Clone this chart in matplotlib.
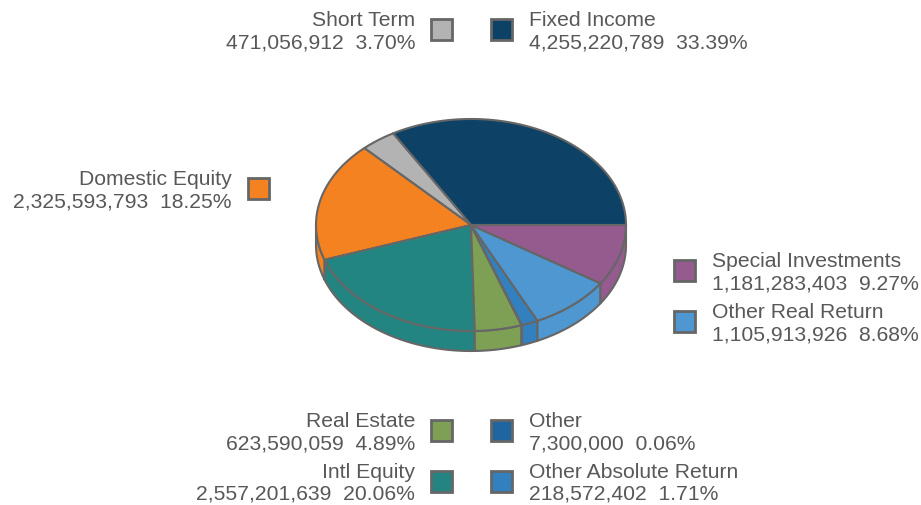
import numpy as np
import matplotlib.pyplot as plt
from matplotlib.patches import Polygon, Rectangle

# data, in pie order (counter-clockwise from 3 o'clock)
labels = ["Fixed Income", "Short Term", "Domestic Equity", "Intl Equity",
          "Real Estate", "Other", "Other Absolute Return",
          "Other Real Return", "Special Investments"]
values = [4255220789, 471056912, 2325593793, 2557201639, 623590059,
          7300000, 218572402, 1105913926, 1181283403]
colors = ["#0d4166", "#b3b3b3", "#f58220", "#238582", "#7ea055",
          "#1f65a0", "#3380bf", "#4f97d1", "#955b8e"]

# layout (pixel coords)
CX, CY, RX, RY, DEPTH = 471, 225, 155, 106, 20
EDGE = "#666666"
TEXT = "#585858"
FONT = "Liberation Sans"
FS = 15.2

# label -> (square centre x, first baseline y, text side)
legend_pos = {
    "Short Term": (441.5, 26, "left"),
    "Fixed Income": (501.5, 26, "right"),
    "Domestic Equity": (258, 185, "left"),
    "Special Investments": (684, 267, "right"),
    "Other Real Return": (684, 318, "right"),
    "Real Estate": (441.5, 427, "left"),
    "Other": (501.5, 427, "right"),
    "Intl Equity": (441.5, 477.5, "left"),
    "Other Absolute Return": (501.5, 477.5, "right"),
}


def arc(t0, t1, dy=0.0, n=80):
    t = np.radians(np.linspace(t0, t1, n))
    return np.column_stack([CX + RX * np.cos(t), CY - RY * np.sin(t) + dy])


fig = plt.figure(figsize=(9.21, 5.05), dpi=100)
ax = fig.add_axes([0, 0, 1, 1])
ax.set_xlim(0, 921)
ax.set_ylim(505, 0)
ax.axis("off")

vals = np.array(values, dtype=float)
frac = vals / vals.sum()
bounds = np.concatenate([[0], np.cumsum(frac) * 360])

# side walls (front half only)
for i, c in enumerate(colors):
    a, b = max(bounds[i], 180), min(bounds[i + 1], 360)
    if b <= a:
        continue
    top = arc(a, b)
    bot = arc(a, b, DEPTH)[::-1]
    ax.add_patch(Polygon(np.vstack([top, bot]), closed=True, facecolor=c,
                         edgecolor=EDGE, lw=1.5, joinstyle="round"))

# top face
for i, c in enumerate(colors):
    pts = np.vstack([[CX, CY], arc(bounds[i], bounds[i + 1])])
    ax.add_patch(Polygon(pts, closed=True, facecolor=c, edgecolor=EDGE,
                         lw=1.5, joinstyle="round"))

# legend entries
total = vals.sum()
for lab, v, c in zip(labels, values, colors):
    sx, by, side = legend_pos[lab]
    sy = by + 3.5
    ax.add_patch(Rectangle((sx - 10.5, sy - 10.5), 21, 21, facecolor=c,
                           edgecolor=EDGE, lw=2))
    line2 = f"{v:,}  {v / total * 100:.2f}%"
    if side == "left":
        tx, ha = sx - 26.5, "right"
    else:
        tx, ha = sx + 27.5, "left"
    ax.text(tx, by, lab, ha=ha, va="baseline", fontsize=FS,
            family=FONT, color=TEXT)
    ax.text(tx, by + 22.5, line2, ha=ha, va="baseline", fontsize=FS,
            family=FONT, color=TEXT)

fig.savefig("out.png", dpi=100)
